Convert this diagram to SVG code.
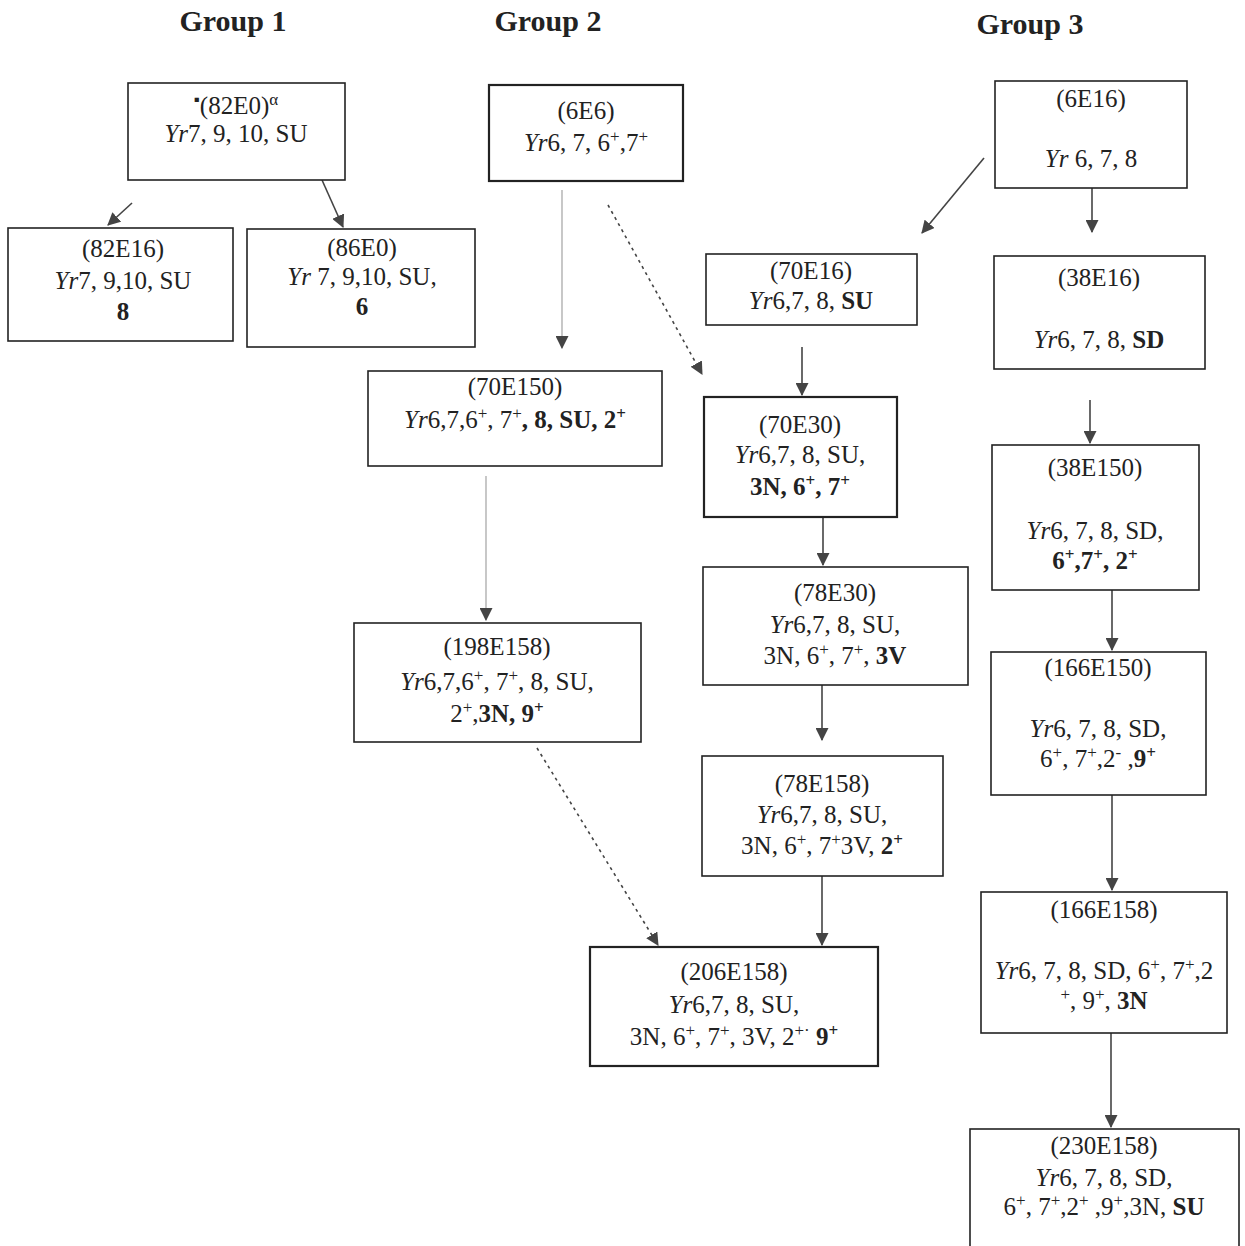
<svg xmlns="http://www.w3.org/2000/svg" width="1245" height="1246" viewBox="0 0 1245 1246">
<style>
text{font-family:"Liberation Serif","Times New Roman",serif;font-size:25px;fill:#222;text-anchor:middle}
.title{font-size:30px;font-weight:bold}
.box{fill:#fff;stroke:#222;stroke-width:1.6}
.thick{stroke-width:2.2}
.i{font-style:italic}
.b{font-weight:bold}
.sup{font-size:17px;baseline-shift:super}
.c{fill:none;stroke:#444;stroke-width:1.6}
.light{stroke:#aaa;stroke-width:1.3}
.dot{stroke-dasharray:3,4}
</style>
<defs>
<marker id="ah" viewBox="0 0 12 12" refX="11" refY="6" markerWidth="13" markerHeight="13" markerUnits="userSpaceOnUse" orient="auto">
<path d="M0,0 L12,6 L0,12 Z" fill="#444"/>
</marker>
</defs>
<rect width="1245" height="1246" fill="#fff"/>
<text class="title" x="233" y="31">Group 1</text>
<text class="title" x="548" y="31">Group 2</text>
<text class="title" x="1030" y="34">Group 3</text>

<g id="connectors">
<line class="c" x1="132" y1="203" x2="108" y2="225" marker-end="url(#ah)"/>
<line class="c" x1="322" y1="180" x2="343" y2="227" marker-end="url(#ah)"/>
<line class="c light" x1="562" y1="190" x2="562" y2="348" marker-end="url(#ah)"/>
<line class="c dot" x1="608" y1="205" x2="702" y2="374" marker-end="url(#ah)"/>
<line class="c light" x1="486" y1="476" x2="486" y2="620" marker-end="url(#ah)"/>
<line class="c dot" x1="537" y1="748" x2="658" y2="945" marker-end="url(#ah)"/>
<line class="c" x1="984" y1="158" x2="922" y2="233" marker-end="url(#ah)"/>
<line class="c" x1="1092" y1="188" x2="1092" y2="232" marker-end="url(#ah)"/>
<line class="c" x1="802" y1="347" x2="802" y2="395" marker-end="url(#ah)"/>
<line class="c" x1="823" y1="517" x2="823" y2="565" marker-end="url(#ah)"/>
<line class="c" x1="822" y1="685" x2="822" y2="740" marker-end="url(#ah)"/>
<line class="c" x1="822" y1="876" x2="822" y2="945" marker-end="url(#ah)"/>
<line class="c" x1="1090" y1="400" x2="1090" y2="443" marker-end="url(#ah)"/>
<line class="c" x1="1112" y1="590" x2="1112" y2="650" marker-end="url(#ah)"/>
<line class="c" x1="1112" y1="795" x2="1112" y2="890" marker-end="url(#ah)"/>
<line class="c" x1="1111" y1="1033" x2="1111" y2="1127" marker-end="url(#ah)"/>
</g>

<g id="n82E0">
<rect class="box" x="128" y="83" width="217" height="97"/>
<text x="236" y="114"><tspan class="sup">▪</tspan>(82E0)<tspan class="sup">α</tspan></text>
<text x="236" y="142"><tspan class="i">Yr</tspan>7, 9, 10, SU</text>
</g>
<g id="n82E16">
<rect class="box" x="8" y="228" width="225" height="113"/>
<text x="123" y="257">(82E16)</text>
<text x="123" y="289"><tspan class="i">Yr</tspan>7, 9,10, SU</text>
<text x="123" y="320" class="b">8</text>
</g>
<g id="n86E0">
<rect class="box" x="247" y="229" width="228" height="118"/>
<text x="362" y="256">(86E0)</text>
<text x="362" y="285"><tspan class="i">Yr</tspan> 7, 9,10, SU,</text>
<text x="362" y="315" class="b">6</text>
</g>
<g id="n6E6">
<rect class="box thick" x="489" y="85" width="194" height="96"/>
<text x="586" y="119">(6E6)</text>
<text x="586" y="151"><tspan class="i">Yr</tspan>6, 7, 6<tspan class="sup">+</tspan>,7<tspan class="sup">+</tspan></text>
</g>
<g id="n70E150">
<rect class="box" x="368" y="371" width="294" height="95"/>
<text x="515" y="395">(70E150)</text>
<text x="515" y="428"><tspan class="i">Yr</tspan>6,7,6<tspan class="sup">+</tspan>, 7<tspan class="sup">+</tspan><tspan class="b">, 8, SU,  2<tspan class="sup">+</tspan></tspan></text>
</g>
<g id="n198E158">
<rect class="box" x="354" y="623" width="287" height="119"/>
<text x="497" y="655">(198E158)</text>
<text x="497" y="690"><tspan class="i">Yr</tspan>6,7,6<tspan class="sup">+</tspan>, 7<tspan class="sup">+</tspan>, 8, SU,</text>
<text x="497" y="722">2<tspan class="sup">+</tspan>,<tspan class="b">3N, 9<tspan class="sup">+</tspan></tspan></text>
</g>
<g id="n70E16">
<rect class="box" x="706" y="254" width="211" height="71"/>
<text x="811" y="279">(70E16)</text>
<text x="811" y="309"><tspan class="i">Yr</tspan>6,7, 8, <tspan class="b">SU</tspan></text>
</g>
<g id="n70E30">
<rect class="box thick" x="704" y="397" width="193" height="120"/>
<text x="800" y="433">(70E30)</text>
<text x="800" y="463"><tspan class="i">Yr</tspan>6,7, 8, SU,</text>
<text x="800" y="495" class="b">3N, 6<tspan class="sup">+</tspan>, 7<tspan class="sup">+</tspan></text>
</g>
<g id="n78E30">
<rect class="box" x="703" y="567" width="265" height="118"/>
<text x="835" y="601">(78E30)</text>
<text x="835" y="633"><tspan class="i">Yr</tspan>6,7, 8, SU,</text>
<text x="835" y="664">3N, 6<tspan class="sup">+</tspan>, 7<tspan class="sup">+</tspan>,  <tspan class="b">3V</tspan></text>
</g>
<g id="n78E158">
<rect class="box" x="702" y="756" width="241" height="120"/>
<text x="822" y="792">(78E158)</text>
<text x="822" y="823"><tspan class="i">Yr</tspan>6,7, 8, SU,</text>
<text x="822" y="854">3N, 6<tspan class="sup">+</tspan>, 7<tspan class="sup">+</tspan>3V, <tspan class="b">2<tspan class="sup">+</tspan></tspan></text>
</g>
<g id="n206E158">
<rect class="box thick" x="590" y="947" width="288" height="119"/>
<text x="734" y="980">(206E158)</text>
<text x="734" y="1013"><tspan class="i">Yr</tspan>6,7, 8, SU,</text>
<text x="734" y="1045">3N, 6<tspan class="sup">+</tspan>, 7<tspan class="sup">+</tspan>, 3V,  2<tspan class="sup">+·</tspan> <tspan class="b">9<tspan class="sup">+</tspan></tspan></text>
</g>
<g id="n6E16">
<rect class="box" x="995" y="81" width="192" height="107"/>
<text x="1091" y="107">(6E16)</text>
<text x="1091" y="167"><tspan class="i">Yr</tspan> 6, 7, 8</text>
</g>
<g id="n38E16">
<rect class="box" x="994" y="256" width="211" height="113"/>
<text x="1099" y="286">(38E16)</text>
<text x="1099" y="348"><tspan class="i">Yr</tspan>6, 7, 8, <tspan class="b">SD</tspan></text>
</g>
<g id="n38E150">
<rect class="box" x="992" y="445" width="207" height="145"/>
<text x="1095" y="476">(38E150)</text>
<text x="1095" y="539"><tspan class="i">Yr</tspan>6, 7, 8, SD,</text>
<text x="1095" y="569" class="b">6<tspan class="sup">+</tspan>,7<tspan class="sup">+</tspan>, 2<tspan class="sup">+</tspan></text>
</g>
<g id="n166E150">
<rect class="box" x="991" y="652" width="215" height="143"/>
<text x="1098" y="676">(166E150)</text>
<text x="1098" y="737"><tspan class="i">Yr</tspan>6, 7, 8, SD,</text>
<text x="1098" y="767">6<tspan class="sup">+</tspan>, 7<tspan class="sup">+</tspan>,2<tspan class="sup">-</tspan> ,<tspan class="b">9<tspan class="sup">+</tspan></tspan></text>
</g>
<g id="n166E158">
<rect class="box" x="981" y="892" width="246" height="141"/>
<text x="1104" y="918">(166E158)</text>
<text x="1104" y="979"><tspan class="i">Yr</tspan>6, 7, 8, SD, 6<tspan class="sup">+</tspan>, 7<tspan class="sup">+</tspan>,2</text>
<text x="1104" y="1009"><tspan class="sup">+</tspan>, 9<tspan class="sup">+</tspan>, <tspan class="b">3N</tspan></text>
</g>
<g id="n230E158">
<rect class="box" x="970" y="1129" width="269" height="125"/>
<text x="1104" y="1154">(230E158)</text>
<text x="1104" y="1186"><tspan class="i">Yr</tspan>6, 7, 8, SD,</text>
<text x="1104" y="1215">6<tspan class="sup">+</tspan>, 7<tspan class="sup">+</tspan>,2<tspan class="sup">+</tspan> ,9<tspan class="sup">+</tspan>,3N,  <tspan class="b">SU</tspan></text>
</g>
</svg>
